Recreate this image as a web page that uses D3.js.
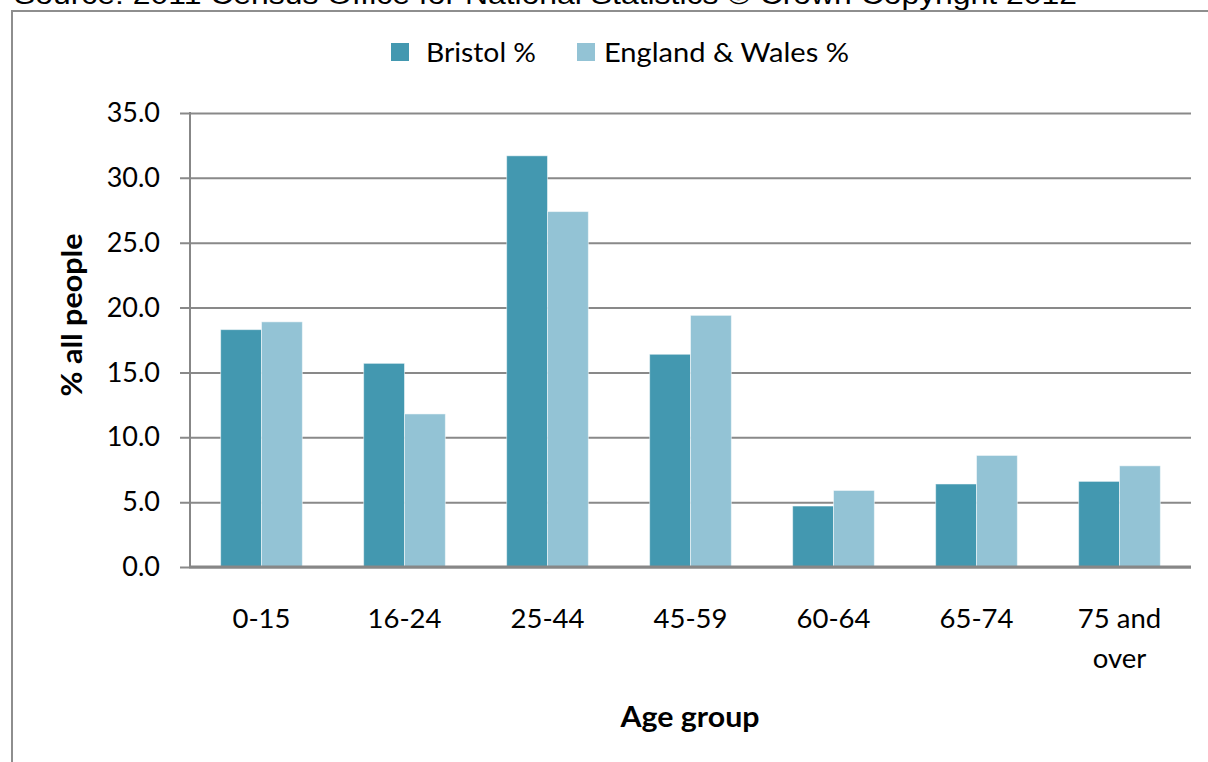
<!DOCTYPE html>
<html>
<head>
<meta charset="utf-8">
<script src="https://cdn.jsdelivr.net/npm/d3@7"></script>
<style>
  html, body { margin: 0; padding: 0; background: #ffffff; }
  svg { display: block; }
  text { font-family: Lato, "Open Sans", sans-serif; fill: #000; }
</style>
</head>
<body>
<svg id="chart" width="1208" height="762"></svg>
<script>
const categories = ["0-15", "16-24", "25-44", "45-59", "60-64", "65-74", "75 and over"];
const seriesNames = ["Bristol %", "England & Wales %"];
const bristol = [18.3, 15.7, 31.7, 16.4, 4.7, 6.4, 6.6];
const englandWales = [18.9, 11.8, 27.4, 19.4, 5.9, 8.6, 7.8];
const yTicks = [0, 5, 10, 15, 20, 25, 30, 35];
const colors = ["#4398B0", "#93C3D5"];
const sourceText = "Source: 2011 Census Office for National Statistics \u00A9 Crown Copyright 2012";

const svg = d3.select("#chart");
const plot = { left: 190, right: 1191, top: 113, bottom: 567 };

// source text (cut off at top, as in the reference)
svg.append("text")
  .attr("x", 14).attr("y", 4)
  .attr("textLength", 1063).attr("lengthAdjust", "spacingAndGlyphs")
  .style("font-family", "'Liberation Sans', Arial, sans-serif")
  .style("font-size", "27px")
  .text(sourceText);

// chart border
svg.append("rect")
  .attr("x", 12).attr("y", 11)
  .attr("width", 1220).attr("height", 780)
  .attr("fill", "none").attr("stroke", "#8e8e8e").attr("stroke-width", 2);

const x0 = d3.scaleBand().domain(categories).range([plot.left, plot.right]).padding(0);
const x1 = d3.scaleBand().domain(seriesNames).range([0, x0.bandwidth()]).paddingInner(0).paddingOuter(0.75);
const y = d3.scaleLinear().domain([0, 35]).range([plot.bottom, plot.top]);

// gridlines + ticks
const yAxis = d3.axisLeft(y).tickValues(yTicks).tickFormat(d3.format(".1f"))
  .tickSize(-(plot.right - plot.left)).tickSizeOuter(0).tickPadding(20);
const gy = svg.append("g").attr("transform", `translate(${plot.left},0)`).call(yAxis);
gy.select(".domain").remove();
gy.selectAll(".tick line")
  .attr("x1", -10)
  .attr("stroke", "#898989").attr("stroke-width", 2);
gy.selectAll(".tick text")
  .attr("x", -30)
  .style("font-family", "Lato, 'Open Sans', sans-serif")
  .style("font-size", "27px").attr("fill", "#000");

// bars
const data = categories.map((c, i) => ({ cat: c, vals: [bristol[i], englandWales[i]] }));
const groups = svg.append("g").selectAll("g").data(data).join("g")
  .attr("transform", d => `translate(${x0(d.cat)},0)`);
groups.selectAll("rect").data(d => d.vals.map((v, j) => ({ name: seriesNames[j], v, j })))
  .join("rect")
  .attr("x", d => x1(d.name))
  .attr("width", x1.bandwidth())
  .attr("y", d => y(d.v))
  .attr("height", d => y(0) - y(d.v))
  .attr("fill", d => colors[d.j])
  .attr("stroke", "#ffffff").attr("stroke-opacity", 0.5).attr("stroke-width", 1);

// y axis line
svg.append("line")
  .attr("x1", plot.left).attr("x2", plot.left)
  .attr("y1", plot.top - 1).attr("y2", plot.bottom)
  .attr("stroke", "#878787").attr("stroke-width", 2);
// x axis line
const xAxis = d3.axisBottom(x0).tickSize(0).tickSizeOuter(0).tickFormat("");
const gx = svg.append("g").attr("transform", `translate(0,${plot.bottom})`).call(xAxis);
gx.select(".domain").attr("stroke", "#878787").attr("stroke-width", 3)
  .attr("d", `M${plot.left - 1},0H${plot.right}`);

// x labels (wrapped)
const labelLines = { "75 and over": ["75 and", "over"] };
categories.forEach(c => {
  const lines = labelLines[c] || [c];
  const t = svg.append("text")
    .attr("x", x0(c) + x0.bandwidth() / 2)
    .attr("y", 628)
    .attr("text-anchor", "middle")
    .style("font-size", "27.5px");
  lines.forEach((ln, i) => {
    t.append("tspan").attr("x", x0(c) + x0.bandwidth() / 2).attr("dy", i === 0 ? 0 : 40).text(ln);
  });
});

// axis titles
svg.append("text")
  .attr("x", 690).attr("y", 727)
  .attr("text-anchor", "middle")
  .attr("textLength", 139).attr("lengthAdjust", "spacingAndGlyphs")
  .style("font-size", "28px").style("font-weight", "bold")
  .text("Age group");
svg.append("text")
  .attr("transform", "translate(82,315) rotate(-90)")
  .attr("text-anchor", "middle")
  .attr("textLength", 163).attr("lengthAdjust", "spacingAndGlyphs")
  .style("font-size", "28px").style("font-weight", "bold")
  .text("% all people");

// legend
const legendItems = [
  { name: seriesNames[0], x: 391, tx: 426, w: 110 },
  { name: seriesNames[1], x: 577, tx: 604, w: 245 }
];
const lg = svg.append("g");
legendItems.forEach((it, i) => {
  lg.append("rect").attr("x", it.x).attr("y", 43).attr("width", 18).attr("height", 18)
    .attr("fill", colors[i]);
  lg.append("text").attr("x", it.tx).attr("y", 62)
    .attr("textLength", it.w).attr("lengthAdjust", "spacingAndGlyphs")
    .style("font-size", "27.5px").text(it.name);
});
</script>
</body>
</html>
